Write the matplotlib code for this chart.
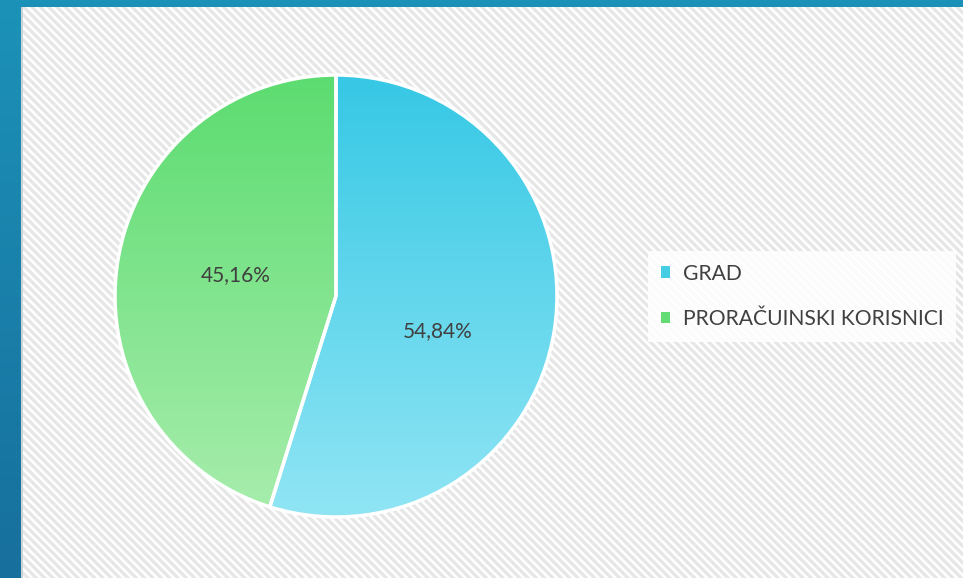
import numpy as np
import matplotlib
matplotlib.use("Agg")
import matplotlib.pyplot as plt
from matplotlib.patches import Rectangle, Patch
from matplotlib.colors import LinearSegmentedColormap

categories = ["GRAD", "PRORAČUINSKI KORISNICI"]
values = [54.84, 45.16]
labels = ["54,84%", "45,16%"]
top_colors = ["#36c8e5", "#5cdc70"]
bottom_colors = ["#90e5f4", "#a8edad"]
legend_colors = ["#45cde6", "#63dc75"]

plt.rcParams["hatch.color"] = "#e6e6e6"
plt.rcParams["hatch.linewidth"] = 2.4

W, H = 963, 578
fig = plt.figure(figsize=(W / 100, H / 100), dpi=100)

# blue frame gradient
bg = fig.add_axes([0, 0, 1, 1], zorder=-10)
bg.set_axis_off()
grad = np.linspace(0, 1, 256).reshape(-1, 1)
bcmap = LinearSegmentedColormap.from_list("b", ["#1c92b8", "#176f9d"])
bg.imshow(grad, aspect="auto", cmap=bcmap, extent=[0, 1, 0, 1], origin="upper")
bg.set_xlim(0, 1); bg.set_ylim(0, 1)

# panel with diagonal stripes
px0, py0 = 21 / W, 0
panel = Rectangle((px0, py0), 1 - px0, 1 - 7 / H, transform=fig.transFigure,
                  facecolor="white", edgecolor="#e6e6e6", hatch="\\" * 4,
                  linewidth=0, zorder=-5)
fig.patches.append(panel)
edge = Rectangle((px0, py0), 1.5 / W, 1 - 7 / H, transform=fig.transFigure,
                 facecolor="#c9d3d8", linewidth=0, zorder=-4)
fig.patches.append(edge)

cx, cy, r = 336, 296, 221
ax = fig.add_axes([(cx - r) / W, (H - cy - r) / H, 2 * r / W, 2 * r / H])
ax.set_axis_off()
wedges, _ = ax.pie(values, startangle=90, counterclock=False, radius=1,
                   wedgeprops=dict(edgecolor="white", linewidth=2.5))
ax.set_xlim(-1, 1); ax.set_ylim(-1, 1)
ax.set_aspect("equal")
for i, w in enumerate(wedges):
    cmap = LinearSegmentedColormap.from_list("g%d" % i, [top_colors[i], bottom_colors[i]])
    im = ax.imshow(grad, aspect="auto", cmap=cmap, extent=[-1, 1, -1, 1],
                   origin="upper", zorder=1)
    im.set_clip_path(w)
    w.set_facecolor("none")
    w.set_zorder(2)

label_pos = [(0.462, -0.158), (-0.452, 0.095)]
for (x, y), t in zip(label_pos, labels):
    ax.text(x, y, t, ha="center", va="center", fontsize=15, color="#404040",
            family="Lato", zorder=3)

handles = [Patch(facecolor=c, edgecolor="none") for c in legend_colors]
leg = fig.legend(handles, categories, loc="upper left",
                 bbox_to_anchor=(648 / W, 1 - 251 / H), frameon=True,
                 fancybox=False, framealpha=0.85, edgecolor="none",
                 prop=dict(family="Lato", size=15.2), labelcolor="#404040",
                 handlelength=0.45, handleheight=0.45, handletextpad=0.6,
                 labelspacing=1.2, borderpad=0.6, borderaxespad=0)
leg.get_frame().set_facecolor("white")
fig.savefig("out.png", dpi=100)
